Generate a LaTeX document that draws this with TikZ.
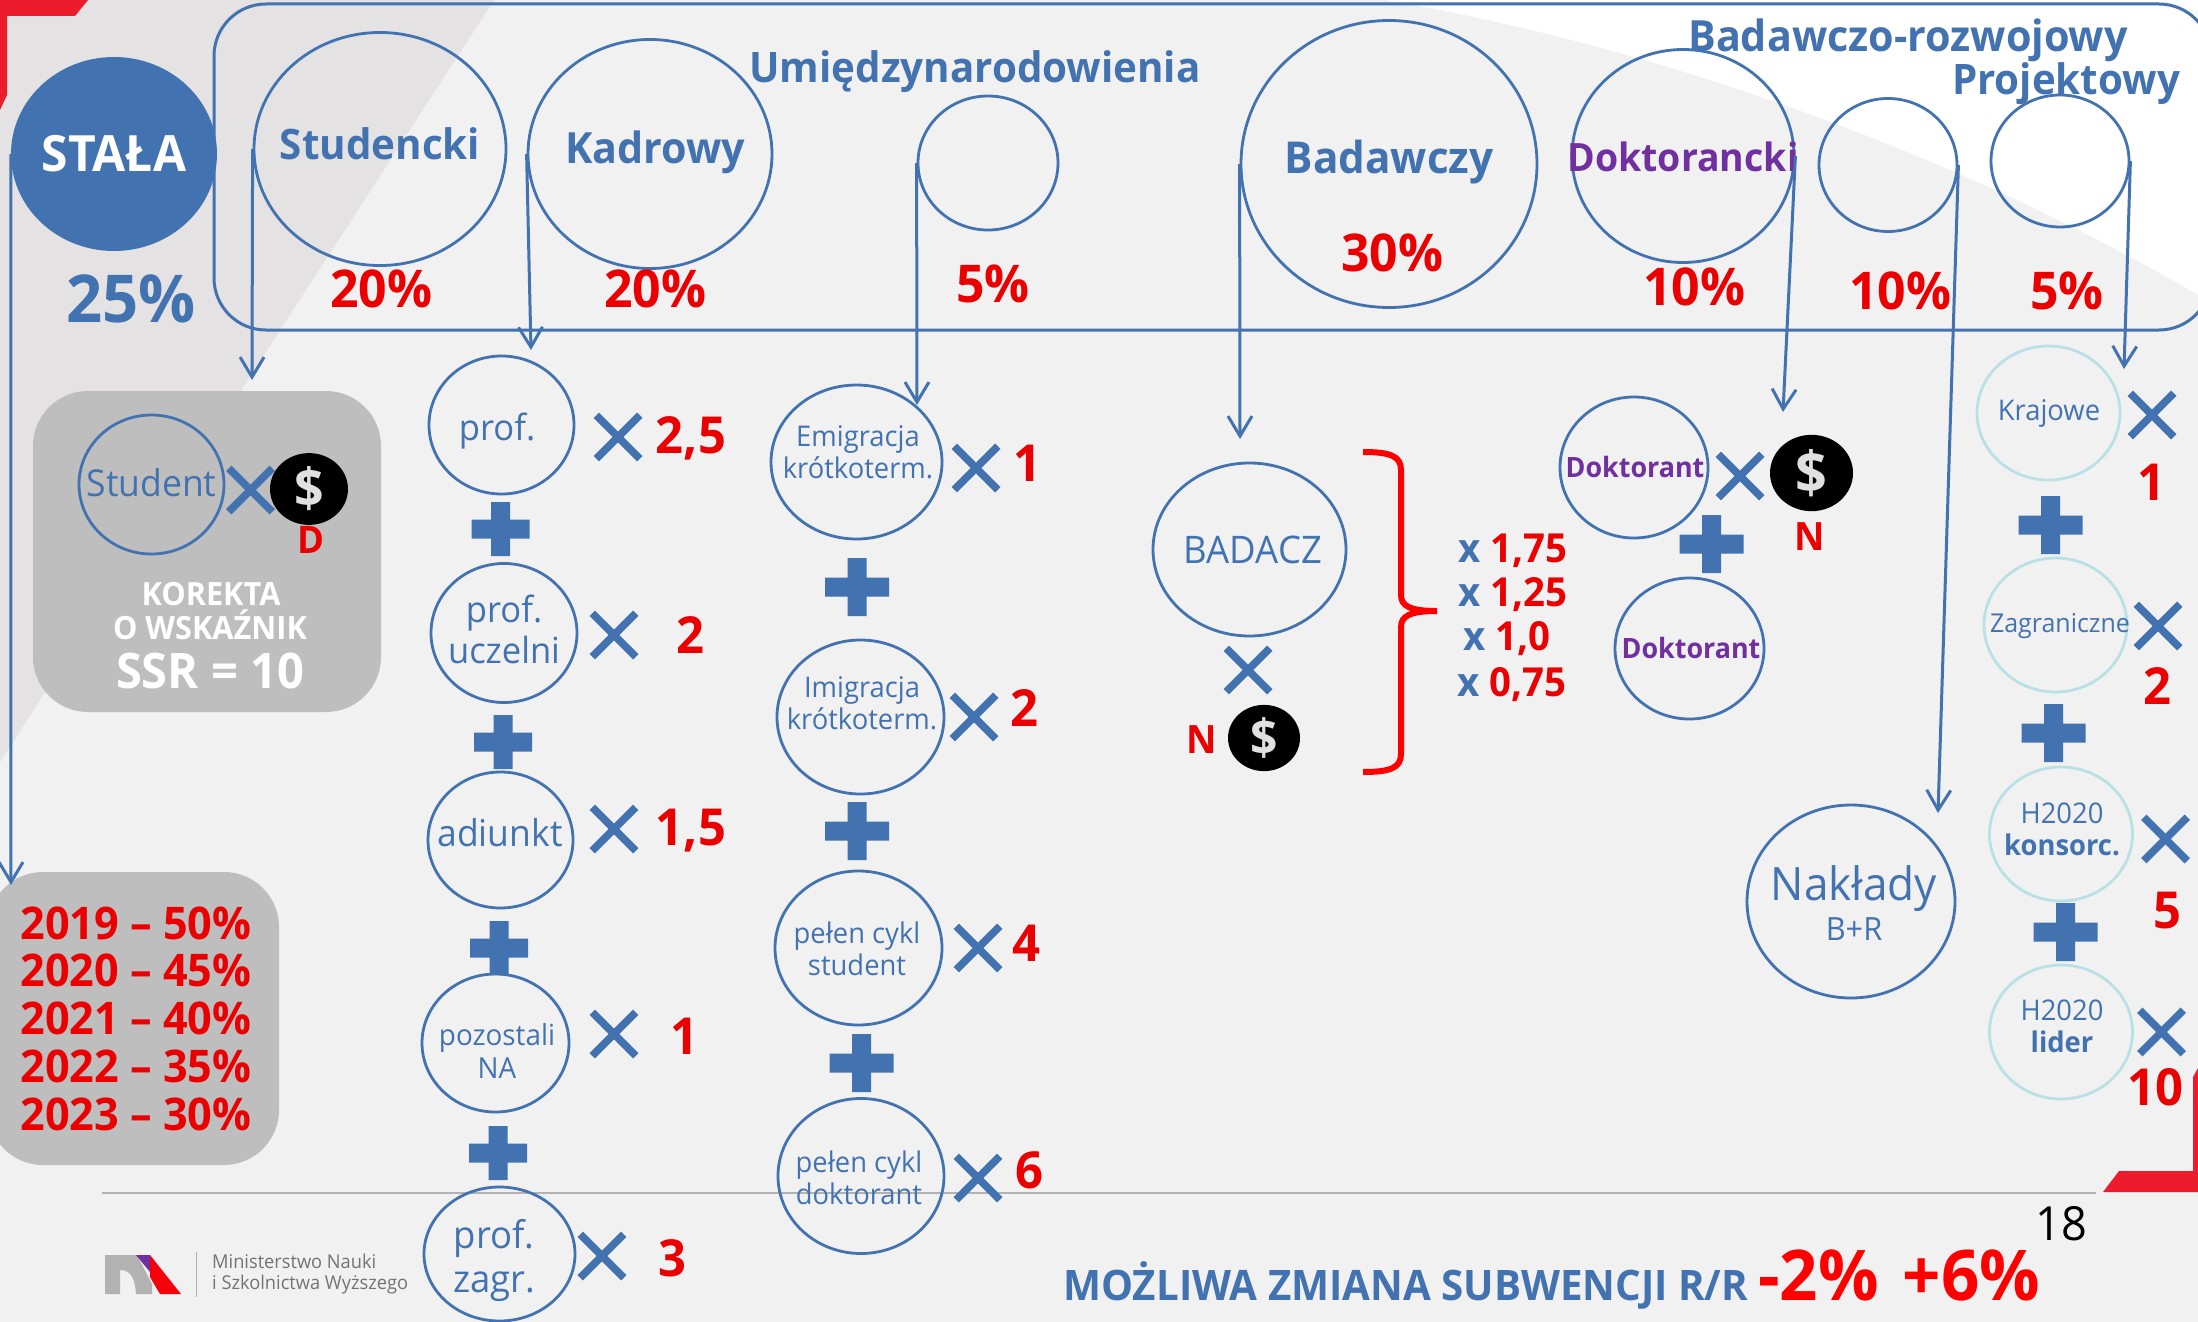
\documentclass[tikz,border=0pt]{standalone}
\usepackage{fontspec}
\setmainfont{Open Sans}[FakeStretch=0.96]
\usetikzlibrary{shapes.misc,shapes.geometric,arrows.meta}
\definecolor{rkblue}{HTML}{4273B0}
\definecolor{rkred}{HTML}{EA0000}
\definecolor{rkpurple}{HTML}{7030A0}
\definecolor{rkteal}{HTML}{B9E1E5}
\definecolor{rkbar}{HTML}{EC1C2D}
\definecolor{rkgray}{HTML}{BEBEBE}
\definecolor{rkback}{HTML}{F1F1F1}
\definecolor{rkwedge}{HTML}{E4E2E3}
\newcommand{\fs}[1]{\fontsize{#1}{1.15\dimexpr#1pt\relax}\selectfont}

\begin{document}
\begin{tikzpicture}[x=1pt,y=-1pt,every node/.style={inner sep=0pt, align=center},
	oval/.style 2 args={ellipse, draw=rkblue, line width=2.8pt, minimum width=#1pt, minimum height=#2pt},
	tealoval/.style 2 args={ellipse, draw=rkteal, line width=2.8pt, minimum width=#1pt, minimum height=#2pt},
	coin/.style 2 args={ellipse, fill=black, text=white!88!black, font=\bfseries\fs{#2}, minimum width=#1pt, minimum height=#1pt*0.92},
	redtxt/.style={anchor=base, text=rkred, font=\bfseries\fs{#1}},
	bluetxt/.style={anchor=base, text=rkblue, font=\bfseries\fs{#1}},
	whitetxt/.style={anchor=base, text=white, font=\bfseries\fs{#1}},
	purpletxt/.style={anchor=base, text=rkpurple, font=\bfseries\fs{#1}},
	thintxt/.style={anchor=base, text=rkblue, font=\fs{#1}},
	mult/.style={cross out, draw=rkblue, line width=7.5pt, minimum width=36pt, minimum height=36pt},
	arrow/.style={draw=rkblue, line width=3pt, -{Straight Barb[length=20pt,width=24pt]}},
	pics/plusmark/.style 2 args={code={\fill[rkblue] (-#1,-9.5) rectangle (#1,9.5) (-9.5,-#2) rectangle (9.5,#2);}}]
	\useasboundingbox (0,0) rectangle (2198,1322);
	\clip (0,0) rectangle (2198,1322);
	% background
	\fill[white] (0,0) rectangle (2198,1322);
	\fill[rkback] (0,0) -- (1385,0) .. controls (1650,45) and (1950,150) .. (2198,295) -- (2198,1322) -- (0,1322) -- cycle;
	\fill[rkwedge] (0,0) -- (494,0) -- (0,762) -- cycle;
	\fill[rkbar] (0,0) -- (88,0) -- (75,16) -- (7,16) -- (7,95) -- (0,110) -- cycle;
	\fill[rkbar] (2103,1192) -- (2119,1171) -- (2193,1171) -- (2193,1077) -- (2198,1068) -- (2198,1192) -- cycle;
	\draw[black!30, line width=2.5pt] (102,1193) -- (2096,1193);
	\draw[rkblue, line width=3pt, rounded corners=52pt] (214,4) rectangle (2211,330);
	\fill[rkgray, rounded corners=55pt] (33,391) rectangle (381,712);
	\fill[rkgray, rounded corners=55pt] (-12,872) rectangle (279,1165);

	% top row
	\node[ellipse, fill=rkblue, minimum width=206pt, minimum height=194pt] (stala) at (114,154) {};
	\node[whitetxt=50] (stalatxt) at (114,171) {STAŁA};
	\node[bluetxt=66] (stalapct) at (131,322) {25\%};
	\node[oval={252}{233}] (studencki) at (380,149) {};
	\node[bluetxt=42] (studenckitxt) at (380,159) {Studencki};
	\node[redtxt=52] (studenckipct) at (381,307) {20\%};
	\node[oval={244}{229}] (kadrowy) at (650,154) {};
	\node[bluetxt=43] (kadrowytxt) at (655,163) {Kadrowy};
	\node[redtxt=52] (kadrowypct) at (655,307) {20\%};
	\node[oval={140}{134}] (umiedzy) at (988,163) {};
	\node[bluetxt=42] (umiedzytxt) at (975,82) {Umiędzynarodowienia};
	\node[redtxt=52] (umiedzypct) at (993,302) {5\%};
	\node[oval={296}{287}] (badawczy) at (1389,164) {};
	\node[bluetxt=44] (badawczytxt) at (1389,173) {Badawczy};
	\node[redtxt=52] (badawczypct) at (1392,271) {30\%};
	\node[oval={222}{213}] (doktorancki) at (1683,156) {};
	\node[purpletxt=39] (doktoranckitxt) at (1683,171) {Doktorancki};
	\node[redtxt=52] (doktoranckipct) at (1694,305) {10\%};
	\node[oval={138}{133}] (rozwojowy) at (1888,165) {};
	\node[bluetxt=43] (rozwojowytxt) at (1908,52) {Badawczo-rozwojowy};
	\node[redtxt=52] (rozwojowypct) at (1900,309) {10\%};
	\node[oval={138}{132}] (projektowy) at (2060,161) {};
	\node[bluetxt=42] (projektowytxt) at (2066,94) {Projektowy};
	\node[redtxt=52] (projektowypct) at (2067,309) {5\%};

	% student box
	\node[oval={145}{139}] (student) at (151.5,484.5) {};
	\node[thintxt=37] (studenttxt) at (151.5,496) {Student};
	\node[mult] (studentx) at (250.5,490) {};
	\node[coin={78}{54}] (coind) at (309,489) {\$};
	\node[redtxt=38] (coindtxt) at (311,553) {D};
	\node[whitetxt=32] (korekta) at (211,605) {KOREKTA};
	\node[whitetxt=32] (wskaznik) at (210,639) {O WSKAŹNIK};
	\node[whitetxt=49] (ssr) at (210,688) {SSR = 10};
	\node[redtxt=45] (years) at (136,1130) {2019 – 50\%\\[-4pt]2020 – 45\%\\[-4pt]2021 – 40\%\\[-4pt]2022 – 35\%\\[-4pt]2023 – 30\%};

	% kadrowy column
	\node[oval={145}{138}] (prof) at (501.5,425) {};
	\node[thintxt=36] (proftxt) at (497,440) {prof.};
	\node[mult] (profx) at (618,437) {};
	\node[redtxt=51] (profval) at (691,453) {2,5};
	\pic at (500.5,529) {plusmark={29}{27}};
	\node[oval={146}{139}] (uczelni) at (504,633) {};
	\node[thintxt=36] (uczelnitxt) at (504,663) {prof.\\[-1pt]uczelni};
	\node[mult] (uczelnix) at (614,635) {};
	\node[redtxt=51] (uczelnival) at (690,653) {2};
	\pic at (503,742) {plusmark={29}{27}};
	\node[oval={145}{136}] (adiunkt) at (500.5,840) {};
	\node[thintxt=37] (adiunkttxt) at (500,846) {adiunkt};
	\node[mult] (adiunktx) at (614,829) {};
	\node[redtxt=51] (adiunktval) at (691,845) {1,5};
	\pic at (499,948) {plusmark={29}{27}};
	\node[oval={147}{138}] (pozostali) at (495.5,1043) {};
	\node[thintxt=29] (pozostalitxt) at (497,1078) {pozostali\\[-1pt]NA};
	\node[mult] (pozostalix) at (614,1034) {};
	\node[redtxt=51] (pozostalival) at (684,1054) {1};
	\pic at (498,1153) {plusmark={29}{27}};
	\node[oval={151}{134}] (zagr) at (499.5,1254) {};
	\node[thintxt=38] (zagrtxt) at (494,1292) {prof.\\zagr.};
	\node[mult] (zagrx) at (602,1256) {};
	\node[redtxt=51] (zagrval) at (672,1276) {3};

	% umiedzynarodowienia column
	\node[oval={171}{154}] (emigracja) at (856.5,462) {};
	\node[thintxt=28.5] (emigracjatxt) at (858,478) {Emigracja\\[-1pt]krótkoterm.};
	\node[mult] (emigracjax) at (976,468) {};
	\node[redtxt=51] (emigracjaval) at (1027,481) {1};
	\pic at (857,587) {plusmark={32}{29}};
	\node[oval={167}{154}] (imigracja) at (860.5,717) {};
	\node[thintxt=28.5] (imigracjatxt) at (862,729) {Imigracja\\[-1pt]krótkoterm.};
	\node[mult] (imigracjax) at (974,717) {};
	\node[redtxt=51] (imigracjaval) at (1024,726) {2};
	\pic at (857,831) {plusmark={32}{29}};
	\node[oval={167}{154}] (cyklstudent) at (858.5,948) {};
	\node[thintxt=28.5] (cyklstudenttxt) at (857,975) {pełen cykl\\[-1pt]student};
	\node[mult] (cyklstudentx) at (978,948) {};
	\node[redtxt=51] (cyklstudentval) at (1026,961) {4};
	\pic at (861.5,1063) {plusmark={32}{29}};
	\node[oval={166}{155}] (cykldoktorant) at (861,1176) {};
	\node[thintxt=28.5] (cykldoktoranttxt) at (859,1204) {pełen cykl\\[-1pt]doktorant};
	\node[mult] (cykldoktorantx) at (978,1178) {};
	\node[redtxt=51] (cykldoktorantval) at (1029,1188) {6};

	% badacz
	\node[oval={193}{173}] (badacz) at (1249.5,549.5) {};
	\node[thintxt=38] (badacztxt) at (1253,563) {BADACZ};
	\node[mult] (badaczx) at (1248,670) {};
	\node[coin={72}{50}] (coinn) at (1264,738) {\$};
	\node[redtxt=39] (coinntxt) at (1202,753) {N};
	\draw[red, line width=6pt] (1363,452) .. controls (1390,452) and (1401,456) .. (1401,470) -- (1401,595) .. controls (1401,606) and (1410,611) .. (1437,611) .. controls (1410,611) and (1401,616) .. (1401,627) -- (1401,754) .. controls (1401,768) and (1390,772) .. (1363,772);
	\node[redtxt=40, anchor=base west] (wagaa) at (1458,562) {\textcolor{rkblue}{x} 1,75};
	\node[redtxt=40, anchor=base west] (wagab) at (1458,606) {\textcolor{rkblue}{x} 1,25};
	\node[redtxt=40, anchor=base west] (wagac) at (1463,650) {\textcolor{rkblue}{x} 1,0};
	\node[redtxt=40, anchor=base west] (wagad) at (1457,696) {\textcolor{rkblue}{x} 0,75};

	% doktorant
	\node[oval={148}{141}] (doktoranta) at (1634,467.5) {};
	\node[purpletxt=28] (doktorantatxt) at (1635,477) {Doktorant};
	\node[mult] (doktorantx) at (1740,476) {};
	\node[coin={83}{58}] (coinm) at (1811.5,473) {\$};
	\node[redtxt=39] (coinmtxt) at (1810,550) {N};
	\pic at (1711.5,544) {plusmark={32}{29}};
	\node[oval={149}{141}] (doktorantb) at (1689.5,648.5) {};
	\node[purpletxt=28] (doktorantbtxt) at (1691,658) {Doktorant};

	% naklady
	\node[oval={208}{193}] (naklady) at (1851,901.5) {};
	\node[thintxt=46] (nakladytxt) at (1854,900) {Nakłady};
	\node[thintxt=32] (brtxt) at (1854,940) {B+R};

	% projektowy column
	\node[tealoval={143}{134}] (krajowe) at (2048.5,413) {};
	\node[thintxt=28.5] (krajowetxt) at (2049,420) {Krajowe};
	\node[mult] (krajowex) at (2152,415) {};
	\node[redtxt=51] (krajoweval) at (2151,500) {1};
	\pic at (2050.5,525) {plusmark={32}{29}};
	\node[tealoval={143}{134}] (zagraniczne) at (2055.5,625) {};
	\node[thintxt=26] (zagranicznetxt) at (2060,632) {Zagraniczne};
	\node[mult] (zagranicznex) at (2158,626) {};
	\node[redtxt=51] (zagraniczneval) at (2157,704) {2};
	\pic at (2053.5,733) {plusmark={32}{29}};
	\node[tealoval={143}{134}] (konsorc) at (2061,834) {};
	\node[thintxt=28.5] (konsorctxt) at (2062,855) {H2020\\[-1pt]\textbf{konsorc.}};
	\node[mult] (konsorcx) at (2165.5,839) {};
	\node[redtxt=51] (konsorcval) at (2167,928) {5};
	\pic at (2065.5,932) {plusmark={32}{29}};
	\node[tealoval={143}{134}] (lider) at (2061,1032) {};
	\node[thintxt=28.5] (lidertxt) at (2062,1052) {H2020\\[-1pt]\textbf{lider}};
	\node[mult] (liderx) at (2161.5,1032) {};
	\node[redtxt=51] (liderval) at (2155,1105) {10};

	% arrows
	\coordinate (stalaend) at (11,885);
	\coordinate (studenckiend) at (252,380);
	\coordinate (kadrowyend) at (531,350);
	\coordinate (umiedzyend) at (917,405);
	\coordinate (badawczyend) at (1240,439);
	\coordinate (doktoranckiend) at (1783,412);
	\coordinate (rozwojowyend) at (1938,813);
	\coordinate (projektowyend) at (2124,369);
	\draw[arrow] (stala.west) -- (stalaend);
	\draw[arrow] (studencki.west) -- (studenckiend);
	\draw[arrow] (kadrowy.west) -- (kadrowyend);
	\draw[arrow] (umiedzy.west) -- (umiedzyend);
	\draw[arrow] (badawczy.west) -- (badawczyend);
	\draw[arrow] (doktorancki.east) -- (doktoranckiend);
	\draw[arrow] (rozwojowy.east) -- (rozwojowyend);
	\draw[arrow] (projektowy.east) -- (projektowyend);

	% footer
	\fill[black!30] (105,1255) -- (137,1255) -- (152,1284) -- (152,1294) -- (136,1294) .. controls (135,1280) and (132,1270) .. (120,1270) -- (120,1294) -- (105,1294) -- cycle;
	\fill[rkpurple] (136,1255) -- (150,1255) -- (150,1272) -- cycle;
	\fill[red!85!purple] (150,1255) -- (181,1294) -- (160,1294) -- (150,1277) -- cycle;
	\draw[black!30, line width=1pt] (196,1252) -- (196,1297);
	\node[anchor=base west, text=black!55, font=\fs{19}] (ministerstwoa) at (212,1268) {Ministerstwo Nauki};
	\node[anchor=base west, text=black!55, font=\fs{19}] (ministerstwob) at (212,1289) {i Szkolnictwa Wyższego};
	\node[anchor=base, text=black, font=\fs{47}] (pagenum) at (2061,1240) {18};
	\node[bluetxt=42, anchor=base west] (zmiana) at (1063,1300) {MOŻLIWA ZMIANA SUBWENCJI R/R};
	\node[anchor=base west, text=red, font=\bfseries\fs{70}] (zmianapct) at (1758,1300) {-2\%\hspace{24pt}+6\%};
\end{tikzpicture}
\end{document}
